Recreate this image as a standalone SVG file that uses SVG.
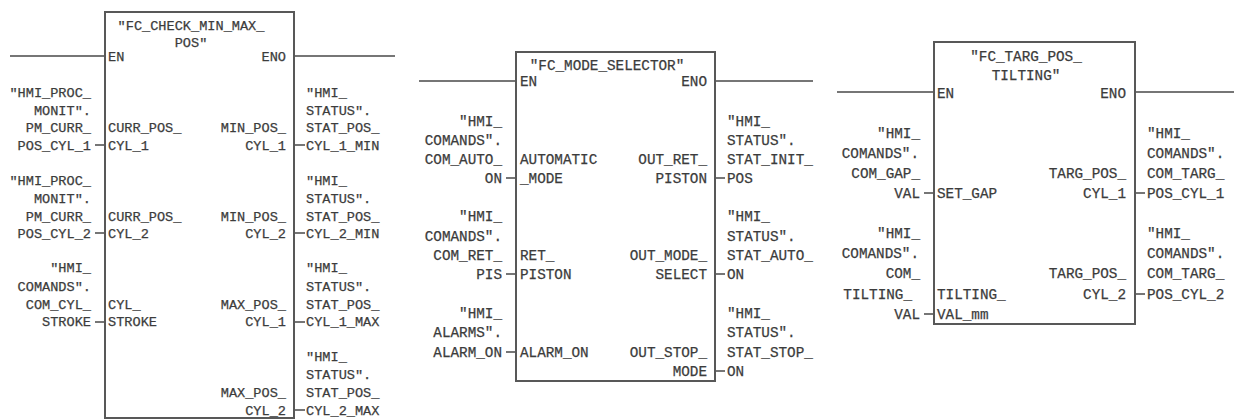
<svg xmlns="http://www.w3.org/2000/svg" width="1234" height="419" viewBox="0 0 1234 419">
<style>
text{font-family:"Liberation Mono","DejaVu Sans Mono",monospace;fill:#3c3c3c;stroke:#3c3c3c;stroke-width:.25;white-space:pre}
.a text{font-size:13.6px}
.b text{font-size:14.3px}
.e{text-anchor:end}
.m{text-anchor:middle}
.box{fill:#fff;stroke:#585858;stroke-width:2}
#connectors path{fill:none;stroke:#4a4a4a;stroke-width:1.6}
</style>
<rect width="1234" height="419" fill="#fff"/>
<g id="connectors">
<path d="M10 56H105M294 56H395M95 145H105M294 145H305M95 233H105M294 233H305M95 322H105M294 322H305M294 410H305"/>
<path d="M419 81H516M715 81H813M506 178H516M715 178H725M506 274H516M715 274H725M506 352H516M715 371H725"/>
<path d="M837 92H934M1135 92H1234M924 193H934M1135 193H1145M924 314H934M1135 294H1145"/>
</g>
<g id="fc-check-min-max-pos" class="a">
<rect class="box" x="105" y="12" width="189" height="406"/>
<text class="m" x="191" y="30">"FC_CHECK_MIN_MAX_</text><text class="m" x="191" y="47">POS"</text>
<text x="108" y="61">EN</text><text class="e" x="286" y="61">ENO</text>
<text class="e" x="91" y="97">"HMI_PROC_</text><text class="e" x="91" y="115">MONIT".</text><text class="e" x="91" y="132">PM_CURR_</text><text class="e" x="91" y="150">POS_CYL_1</text>
<text class="e" x="91" y="185">"HMI_PROC_</text><text class="e" x="91" y="203">MONIT".</text><text class="e" x="91" y="220.500">PM_CURR_</text><text class="e" x="91" y="238">POS_CYL_2</text>
<text class="e" x="91" y="272">"HMI_</text><text class="e" x="91" y="291">COMANDS".</text><text class="e" x="91" y="308.500">COM_CYL_</text><text class="e" x="91" y="326">STROKE</text>
<text x="108" y="132">CURR_POS_</text><text x="108" y="150">CYL_1</text>
<text x="108" y="220.500">CURR_POS_</text><text x="108" y="238">CYL_2</text>
<text x="108" y="308.500">CYL_</text><text x="108" y="326">STROKE</text>
<text class="e" x="286" y="132">MIN_POS_</text><text class="e" x="286" y="150">CYL_1</text>
<text class="e" x="286" y="220.500">MIN_POS_</text><text class="e" x="286" y="238">CYL_2</text>
<text class="e" x="286" y="308.500">MAX_POS_</text><text class="e" x="286" y="326">CYL_1</text>
<text class="e" x="286" y="397">MAX_POS_</text><text class="e" x="286" y="414.500">CYL_2</text>
<text x="306" y="97">"HMI_</text><text x="306" y="115">STATUS".</text><text x="306" y="132">STAT_POS_</text><text x="306" y="150">CYL_1_MIN</text>
<text x="306" y="185">"HMI_</text><text x="306" y="203">STATUS".</text><text x="306" y="220.500">STAT_POS_</text><text x="306" y="238">CYL_2_MIN</text>
<text x="306" y="272">"HMI_</text><text x="306" y="291">STATUS".</text><text x="306" y="308.500">STAT_POS_</text><text x="306" y="326">CYL_1_MAX</text>
<text x="306" y="361">"HMI_</text><text x="306" y="379">STATUS".</text><text x="306" y="397">STAT_POS_</text><text x="306" y="414.500">CYL_2_MAX</text>
</g>
<g id="fc-mode-selector" class="b">
<rect class="box" x="516" y="52" width="199" height="329"/>
<text class="m" x="607" y="70">"FC_MODE_SELECTOR"</text>
<text x="520" y="86">EN</text><text class="e" x="707" y="86">ENO</text>
<text class="e" x="502" y="126">"HMI_</text><text class="e" x="502" y="145">COMANDS".</text><text class="e" x="502" y="164">COM_AUTO_</text><text class="e" x="502" y="183">ON</text>
<text class="e" x="502" y="221">"HMI_</text><text class="e" x="502" y="241">COMANDS".</text><text class="e" x="502" y="260">COM_RET_</text><text class="e" x="502" y="279">PIS</text>
<text class="e" x="502" y="318">"HMI_</text><text class="e" x="502" y="337">ALARMS".</text><text class="e" x="502" y="357">ALARM_ON</text>
<text x="520" y="164">AUTOMATIC</text><text x="520" y="183">_MODE</text>
<text x="520" y="260">RET_</text><text x="520" y="279">PISTON</text>
<text x="520" y="357">ALARM_ON</text>
<text class="e" x="707" y="164">OUT_RET_</text><text class="e" x="707" y="183">PISTON</text>
<text class="e" x="707" y="260">OUT_MODE_</text><text class="e" x="707" y="279">SELECT</text>
<text class="e" x="707" y="357">OUT_STOP_</text><text class="e" x="707" y="376">MODE</text>
<text x="727" y="126">"HMI_</text><text x="727" y="145">STATUS".</text><text x="727" y="164">STAT_INIT_</text><text x="727" y="183">POS</text>
<text x="727" y="221">"HMI_</text><text x="727" y="241">STATUS".</text><text x="727" y="260">STAT_AUTO_</text><text x="727" y="279">ON</text>
<text x="727" y="318">"HMI_</text><text x="727" y="337">STATUS".</text><text x="727" y="357">STAT_STOP_</text><text x="727" y="376">ON</text>
</g>
<g id="fc-targ-pos-tilting" class="b">
<rect class="box" x="934" y="42" width="201" height="282"/>
<text class="m" x="1026" y="61">"FC_TARG_POS_</text><text class="m" x="1026" y="80">TILTING"</text>
<text x="937" y="98">EN</text><text class="e" x="1126" y="98">ENO</text>
<text class="e" x="920" y="138">"HMI_</text><text class="e" x="919" y="158">COMANDS".</text><text class="e" x="920" y="178">COM_GAP_</text><text class="e" x="920" y="198">VAL</text>
<text class="e" x="920" y="238">"HMI_</text><text class="e" x="919" y="258">COMANDS".</text><text class="e" x="920" y="278">COM_</text><text class="e" x="912" y="299">TILTING_</text><text class="e" x="920" y="319">VAL</text>
<text x="937" y="198">SET_GAP</text>
<text x="937" y="299">TILTING_</text><text x="937" y="319">VAL_mm</text>
<text class="e" x="1126" y="178">TARG_POS_</text><text class="e" x="1126" y="198">CYL_1</text>
<text class="e" x="1126" y="278">TARG_POS_</text><text class="e" x="1126" y="299">CYL_2</text>
<text x="1147" y="138">"HMI_</text><text x="1147" y="158">COMANDS".</text><text x="1147" y="178">COM_TARG_</text><text x="1147" y="198">POS_CYL_1</text>
<text x="1147" y="238">"HMI_</text><text x="1147" y="258">COMANDS".</text><text x="1147" y="278">COM_TARG_</text><text x="1147" y="299">POS_CYL_2</text>
</g>
</svg>
